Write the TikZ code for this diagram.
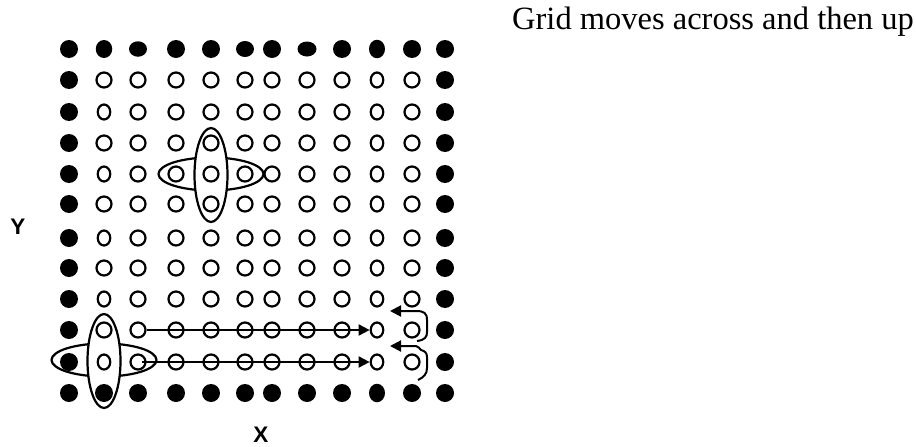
\documentclass[tikz,border=0pt]{standalone}
\usepackage{fontspec}
\setmainfont{Liberation Serif}
\newfontfamily\axisfont{Liberation Sans}
\usetikzlibrary{arrows.meta,shapes.geometric}

\tikzset{
  solid dot/.style 2 args={ellipse, fill=black, minimum width=#1pt, minimum height=#2pt, inner sep=0pt},
  open dot/.style 2 args={ellipse, draw=black, line width=2.2pt, minimum width=#1pt, minimum height=#2pt, inner sep=0pt},
  window/.style={ellipse, draw=black, line width=2.2pt, inner sep=0pt},
  across/.style={window, minimum width=105pt, minimum height=33pt},
  upward/.style={window, fill=white, minimum width=33pt, minimum height=94pt},
  flow/.style={line width=2pt, -{Triangle[length=11pt,width=11pt]}},
  axis label/.style={font=\axisfont\bfseries\fontsize{22.5}{27}\selectfont, inner sep=0pt},
}

\begin{document}
\begin{tikzpicture}[x=1pt, y=-1pt]
\useasboundingbox (0,0) rectangle (916,447);

% title
\node[anchor=base west, inner sep=0pt, font=\fontsize{32.5}{39}\selectfont]
  (title) at (512,29) {Grid moves across and then up};

% grid positions
\foreach \x [count=\i] in {69,104,138,176,211,245,272,307,342,377,412,445} {
  \foreach \y [count=\j] in {49,80,112,143,174,204,238,268,299,330,362,393} {
    \coordinate (p-\i-\j) at (\x,\y);
  }
}

% sampling windows (horizontal first, vertical on top of it)
\node[across] (win-h-up) at (p-5-5) {};
\node[upward] (win-v-up) at ([yshift=-1pt]p-5-5) {};
\node[across] (win-h-lo) at ([yshift=2pt]p-2-11) {};
\node[upward] (win-v-lo) at ([yshift=1pt]p-2-11) {};

% grid points: solid on the border, open inside (hand-drawn, so not all round)
\foreach \i in {1,...,12} {
  \foreach \j in {1,...,12} {
    \pgfmathtruncatemacro\rim{(\i==1)||(\i==12)||(\j==1)||(\j==12)}
    \ifnum\rim=1
      \def\dw{18}\def\dh{18}
      \ifnum\j=1
        \ifnum\i=3 \def\dw{18}\def\dh{15.5}\fi
        \ifnum\i=8 \def\dw{19}\def\dh{15}\fi
        \ifnum\i=6 \def\dw{18}\def\dh{16}\fi
        \ifnum\i=2 \def\dw{16.5}\def\dh{18}\fi
        \ifnum\i=10 \def\dw{16}\def\dh{18.5}\fi
      \fi
      \ifnum\j=12 \ifnum\i=10 \def\dw{16}\def\dh{18.5}\fi\fi
      \node[solid dot={\dw}{\dh}] (d-\i-\j) at (p-\i-\j) {};
    \else
      \def\dw{15}\def\dh{15}
      \ifnum\i=10 \def\dw{12.5}\def\dh{15}\fi
      \ifnum\i=2 \ifodd\j \def\dw{12.5}\def\dh{15}\fi\fi
      \node[open dot={\dw}{\dh}] (d-\i-\j) at (p-\i-\j) {};
    \fi
  }
}

% sweeps across the rows
\draw[flow] (d-3-10.east) -- (d-10-10.west);
\draw[flow] ([xshift=4pt]d-3-11.center) -- (d-10-11.west);

% steps up at the end of each row
\coordinate (up-a0) at (417,341);
\coordinate (up-a1) at (390,311);
\coordinate (up-b0) at (418,380);
\coordinate (up-b1) at (390,346);
\draw[flow] (up-a0) .. controls (425,340) and (427,337) .. (427,332)
  -- (427,320) .. controls (427,313) and (424,311) .. (416,311) -- (up-a1);
\draw[flow] (up-b0) .. controls (424,377) and (427,374) .. (427,368)
  -- (427,357) .. controls (427,353) and (425,351) .. (421,350)
  .. controls (419,349) and (419,346) .. (416,346) -- (up-b1);

% axis labels
\node[axis label] (ylab) at (18,227) {Y};
\node[axis label] (xlab) at (261,435) {X};
\end{tikzpicture}
\end{document}
